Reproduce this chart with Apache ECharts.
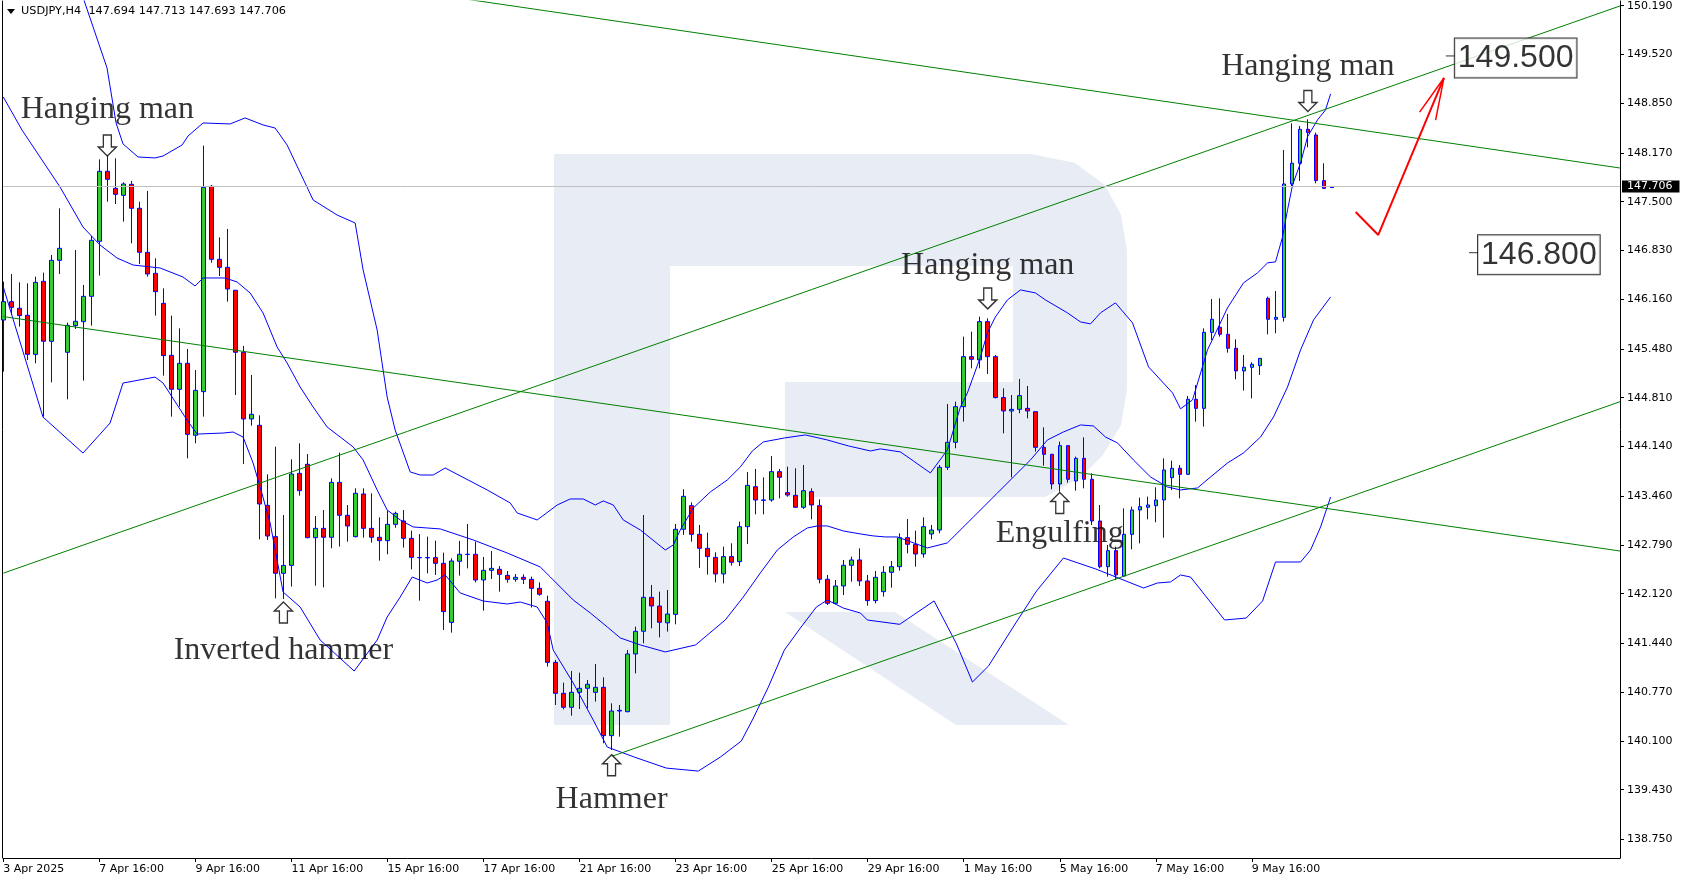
<!DOCTYPE html>
<html><head><meta charset="utf-8">
<script src="https://cdn.jsdelivr.net/npm/echarts@6/dist/echarts.min.js"></script>
<style>html,body{margin:0;padding:0;background:#fff}#c{width:1684px;height:882px}</style>
</head><body><div id="c"></div>
<script>
// ---------- DATA ----------
const symbolName = 'USDJPY,H4';
const headerQuote = ['147.694', '147.713', '147.693', '147.706'];
const lastPrice = 147.706;
const slotCount = 203; // bar slots on the time axis (incl. empty space on the right)

const xTickLabels = ['3 Apr 2025','7 Apr 16:00','9 Apr 16:00','11 Apr 16:00','15 Apr 16:00','17 Apr 16:00','21 Apr 16:00','23 Apr 16:00','25 Apr 16:00','29 Apr 16:00','1 May 16:00','5 May 16:00','7 May 16:00','9 May 16:00'];
const yTickValues = [150.190,149.520,148.850,148.170,147.500,146.830,146.160,145.480,144.810,144.140,143.460,142.790,142.120,141.440,140.770,140.100,139.430,138.750];
const yMin = 138.493, yMax = 150.254;

const open = [145.876,146.128,146.037,145.941,145.405,146.407,145.584,146.695,145.433,145.799,145.854,146.201,146.956,147.917,147.683,147.587,147.738,147.409,146.805,146.517,146.105,145.391,144.925,145.282,144.294,144.893,147.711,146.709,146.599,146.284,145.433,144.518,144.431,143.333,142.903,142.400,142.509,143.772,143.896,142.889,143.017,142.894,143.648,143.196,142.903,143.489,143.017,142.894,142.848,143.072,143.118,142.880,142.617,142.616,142.615,142.537,141.727,142.565,142.661,142.661,142.308,142.441,142.455,142.372,142.317,142.345,142.317,142.194,142.016,141.178,140.753,140.561,140.767,140.822,140.767,140.835,140.172,140.510,140.501,141.293,141.604,142.070,141.951,141.720,141.837,143.004,143.328,142.935,142.743,142.619,142.391,142.629,142.560,143.040,143.589,143.406,143.406,143.795,143.507,143.470,143.306,143.521,143.328,142.318,141.988,142.226,142.510,142.583,142.295,142.025,142.148,142.413,142.491,142.889,142.798,142.665,142.940,142.994,143.855,144.198,144.687,145.373,145.328,145.854,145.373,144.811,144.628,144.650,144.664,144.618,144.129,144.033,143.626,144.152,143.667,143.978,143.690,143.118,142.491,142.711,142.363,142.935,143.269,143.306,143.328,143.406,143.713,143.841,143.758,144.788,144.664,145.707,145.776,145.680,145.488,145.177,145.227,145.250,146.174,145.886,145.913,147.743,148.027,148.493,148.415,147.789,147.694];
const close = [146.128,146.050,145.936,145.405,146.393,145.584,146.695,146.860,145.803,145.858,146.201,146.970,147.917,147.807,147.601,147.743,147.409,146.805,146.508,146.265,145.387,144.925,145.282,144.307,144.911,147.697,146.709,146.599,146.302,145.433,144.518,144.582,143.351,142.912,142.400,142.509,143.763,143.534,142.889,143.017,142.894,143.648,143.196,143.049,143.498,143.017,142.894,142.848,143.072,143.223,142.880,142.619,142.613,142.612,142.537,141.874,142.569,142.661,142.659,142.308,142.441,142.468,142.386,142.317,142.345,142.317,142.194,142.112,141.178,140.753,140.561,140.767,140.822,140.877,140.835,140.172,140.510,140.520,141.293,141.604,142.070,141.951,141.727,141.842,143.004,143.456,142.935,142.743,142.629,142.391,142.629,142.551,143.040,143.607,143.406,143.402,143.795,143.717,143.475,143.306,143.534,143.338,142.318,141.988,142.226,142.510,142.583,142.295,142.025,142.345,142.414,142.491,142.889,142.798,142.665,143.040,142.994,143.855,144.198,144.687,145.373,145.337,145.854,145.373,144.811,144.628,144.650,144.838,144.628,144.129,144.033,143.626,144.152,143.690,143.978,143.690,143.118,142.491,142.711,142.377,142.935,143.269,143.315,143.338,143.406,143.818,143.841,143.758,144.788,144.664,145.707,145.886,145.680,145.488,145.177,145.227,145.268,145.350,145.886,145.913,147.743,148.027,148.493,148.448,147.789,147.683,147.706];
const low = [145.167,145.945,145.785,145.327,145.282,144.550,145.021,146.508,144.788,145.753,145.044,145.799,146.485,147.500,147.468,147.226,146.929,146.645,146.471,145.936,145.112,144.550,144.687,143.978,144.184,144.550,146.663,146.480,146.128,144.847,143.901,144.426,142.866,142.857,142.057,142.047,142.217,143.466,142.880,142.230,142.207,142.743,142.766,142.834,142.894,142.889,142.820,142.574,142.661,143.026,142.752,142.455,142.025,142.400,142.377,141.622,141.586,142.368,142.468,142.276,141.887,142.322,142.148,142.272,142.285,142.253,141.930,142.093,141.119,140.593,140.533,140.446,140.538,140.547,140.639,140.067,139.975,140.158,140.492,141.027,141.439,141.645,141.521,141.600,141.700,142.926,142.834,142.474,142.382,142.276,142.262,142.505,142.500,142.802,143.209,143.209,143.383,143.429,143.452,143.296,143.283,143.141,142.262,141.965,141.979,142.102,142.285,142.226,141.956,141.988,142.080,142.203,142.436,142.674,142.491,142.615,142.866,142.949,143.818,144.115,144.481,145.213,145.213,145.135,144.801,144.321,143.717,144.596,144.527,144.070,143.877,143.553,143.521,143.644,143.534,143.566,143.063,142.468,142.354,142.308,142.354,142.729,142.811,143.141,143.100,142.889,143.543,143.429,143.750,144.481,144.413,145.602,145.648,145.428,145.062,144.907,144.801,145.122,145.680,145.694,145.854,147.707,147.784,148.246,147.752,147.674,147.693];
const high = [146.403,146.508,146.393,146.380,146.471,146.526,146.769,147.409,145.840,146.837,146.357,147.029,148.081,148.141,148.095,147.766,147.784,147.500,147.647,146.723,146.311,145.936,145.762,145.478,145.190,148.269,147.729,147.011,147.125,146.290,145.520,145.122,144.568,143.758,144.138,143.200,143.964,144.184,144.037,143.186,143.269,143.703,144.056,143.337,143.566,143.566,143.498,143.168,143.260,143.246,143.269,142.985,142.939,142.903,142.848,142.683,142.606,142.844,143.077,142.834,142.624,142.706,142.500,142.432,142.391,142.386,142.354,142.276,142.093,141.210,140.899,141.060,141.037,140.936,141.156,140.973,140.616,140.593,141.348,141.668,143.200,142.240,142.148,142.171,143.077,143.553,143.374,143.063,142.958,142.688,142.766,142.812,143.109,143.790,143.832,143.717,144.010,143.832,143.864,143.841,143.887,143.566,143.415,142.377,142.308,142.583,142.628,142.743,142.377,142.432,142.500,142.569,142.949,143.145,142.985,143.168,143.063,143.887,144.724,144.756,145.648,145.716,145.922,145.899,145.396,144.939,144.847,145.067,144.971,144.618,144.403,144.040,144.207,144.161,144.001,144.266,143.772,143.338,142.789,142.766,143.292,143.315,143.438,143.452,143.580,143.978,143.946,143.887,144.834,144.984,145.762,146.165,146.174,145.959,145.611,145.396,145.296,145.355,146.197,146.274,148.210,148.576,148.539,148.630,148.448,148.027,147.713];

// Bollinger bands: [bar position, price]
const bbUpper = [[8.5,150.80],[10.2,150.227],[12.96,149.335],[14.09,148.579],[14.96,148.292],[16.84,148.113],[18.96,148.100],[19.96,148.127],[22.34,148.278],[23.09,148.402],[24.96,148.580],[28.34,148.567],[30.21,148.649],[32.46,148.553],[33.96,148.511],[35.46,148.278],[38.71,147.523],[41.71,147.317],[43.96,147.208],[44.96,146.563],[46.71,145.739],[47.96,144.820],[48.96,144.367],[50.84,143.791],[52.09,143.749],[53.71,143.749],[55.21,143.845],[60.46,143.544],[63.34,143.365],[64.21,143.228],[66.71,143.132],[69.21,143.338],[70.84,143.420],[72.46,143.420],[73.96,143.338],[74.96,143.393],[76.21,143.338],[77.46,143.132],[79.59,142.995],[82.71,142.720],[83.71,142.789],[84.59,142.995],[86.21,143.296],[88.34,143.516],[90.46,143.681],[92.09,143.859],[93.59,144.079],[94.96,144.203],[97.59,144.257],[100.21,144.299],[102.96,144.230],[105.59,144.148],[108.34,144.079],[109.59,144.107],[112.09,144.066],[113.71,143.942],[115.84,143.777],[117.96,144.093],[119.59,144.683],[120.46,144.875],[122.09,145.369],[122.96,145.699],[123.96,145.918],[125.46,146.152],[127.09,146.289],[128.96,146.248],[130.21,146.152],[132.96,145.974],[134.59,145.850],[135.84,145.823],[137.09,145.974],[138.96,146.111],[141.09,145.837],[143.09,145.233],[146.09,144.876],[147.09,144.657],[148.59,144.780],[150.46,145.466],[152.96,146.043],[154.96,146.386],[156.71,146.523],[157.96,146.660],[158.96,146.674],[159.84,147.017],[160.46,147.388],[161.09,147.731],[162.09,148.033],[162.96,148.390],[164.21,148.623],[165.21,148.760],[165.84,148.980]];
const bbMiddle = [[0,148.937],[2.34,148.483],[7.09,147.701],[9.96,147.152],[12.09,146.905],[14.21,146.727],[16.21,146.631],[19.59,146.590],[22.46,146.466],[23.96,146.343],[24.96,146.453],[27.71,146.453],[29.21,146.398],[30.84,146.247],[32.46,145.972],[34.21,145.506],[35.46,145.286],[37.09,144.957],[38.71,144.682],[40.46,144.408],[42.09,144.271],[43.71,144.134],[44.96,143.955],[46.71,143.544],[47.96,143.269],[49.59,143.132],[51.21,143.036],[52.96,143.022],[54.59,143.009],[58.71,142.858],[62.96,142.679],[67.09,142.487],[68.34,142.350],[71.21,142.034],[73.34,141.856],[75.46,141.664],[77.09,141.513],[79.59,141.417],[82.71,141.321],[86.5,141.417],[90.21,141.760],[92.46,142.075],[94.59,142.405],[96.71,142.720],[98.71,142.899],[100.46,143.022],[101.71,143.050],[102.96,143.050],[104.96,142.981],[107.09,142.940],[108.71,142.913],[110.21,142.899],[111.71,142.899],[115.46,142.748],[117.96,142.817],[121.21,143.173],[124.21,143.502],[126.21,143.722],[128.34,143.955],[130.46,144.230],[132.46,144.340],[134.59,144.436],[136.21,144.422],[137.71,144.271],[139.21,144.189],[141.21,143.955],[143.34,143.722],[145.46,143.585],[147.09,143.544],[149.21,143.571],[150.84,143.722],[152.96,143.914],[154.96,144.052],[157.09,144.271],[158.71,144.546],[160.46,144.957],[162.09,145.466],[163.71,145.877],[165.84,146.193]];
const bbLower = [[0,146.328],[4.96,144.544],[9.96,144.050],[13.34,144.462],[14.96,145.011],[18.96,145.093],[19.96,145.011],[22.96,144.503],[24.21,144.311],[27.46,144.325],[28.71,144.339],[29.96,144.270],[31.21,143.914],[32.09,143.584],[33.34,143.090],[34.96,142.143],[37.09,141.937],[39.59,141.484],[43.84,141.059],[46.71,141.484],[47.96,141.800],[49.59,142.074],[51.09,142.349],[52.96,142.267],[54.21,142.308],[55.21,142.377],[57.09,142.130],[59.96,142.020],[62.96,141.979],[64.59,142.006],[66.71,141.937],[67.96,141.718],[68.71,141.347],[71.21,140.894],[73.71,140.386],[75.46,140.016],[78.84,139.878],[82.84,139.727],[86.84,139.686],[89.59,139.878],[92.21,140.098],[93.59,140.386],[95.59,140.839],[97.59,141.347],[99.59,141.649],[101.59,141.937],[102.96,142.033],[104.96,141.923],[107.09,141.855],[107.96,141.759],[112.0,141.70],[116.3,142.021],[119.1,141.431],[121.09,140.908],[123.1,141.128],[126.5,141.718],[129.1,142.157],[132.46,142.610],[136.5,142.459],[142.47,142.198],[144.2,142.267],[145.84,142.281],[147.09,142.377],[148.34,142.349],[149.33,142.212],[152.6,141.759],[155.3,141.786],[157.34,142.020],[158.96,142.555],[162.09,142.555],[163.34,142.720],[164.59,143.036],[165.84,143.447]];

// Trend lines: two anchor points each [bar position, price]
const trendUpperFalling = [[55, 150.325], [202, 147.962]];
const trendUpperRising  = [[0, 142.402], [202, 150.186]];
const trendLowerFalling = [[0, 145.923], [202, 142.706]];
const trendLowerRising  = [[75.8, 139.879], [202, 144.755]];

// Forecast arrow
const forecastPath = [[168.97, 147.359], [171.8, 147.043], [180.0, 149.198]];
const forecastHead = [[176.96, 148.729], [180.0, 149.198], [178.96, 148.620]];

// Target levels
const targetLevels = [149.500, 146.800];
const targetBars = [180.8, 183.7];

// Candlestick patterns
const patternNames = ['Hanging man', 'Inverted hammer', 'Hammer', 'Hanging man', 'Engulfing', 'Hanging man'];
const patternBars = [13, 35, 76, 123, 132, 163];
const patternDir = ['down', 'up', 'up', 'down', 'up', 'down'];
const patternArrowPrices = [148.271, 141.862, 139.767, 146.172, 143.365, 148.882];
const patternLabelPrices = [148.757, 141.340, 139.300, 146.620, 142.950, 149.350];

// ---------- CHART ----------
const chart = echarts.init(document.getElementById('c'), null, {renderer: 'canvas'});
const categories = Array.from({length: slotCount}, (_, i) => String(i));
const candleData = open.map((o, i) => [o, close[i], low[i], high[i]]);
const showTick = (i) => i % 12 === 0 && i / 12 < xTickLabels.length;
const axisFont = {fontFamily: 'DejaVu Sans', fontSize: 11, color: '#000'};
const BLUE = '#0000ff', GREEN = '#008000';

const arrowDown = 'path://M5,0 L13,0 L13,12 L18,12 L9,21 L0,12 L5,12 Z';
const arrowUp = 'path://M9,0 L18,9 L13,9 L13,21 L5,21 L5,9 L0,9 Z';

function overlayLine(data, color, width, z) {
  return {type: 'line', xAxisIndex: 1, yAxisIndex: 0, data, showSymbol: false, symbol: 'none',
    lineStyle: {color, width}, silent: true, z: z || 4, clip: true, animation: false};
}

const option = {
  animation: false,
  backgroundColor: '#fff',
  grid: [{left: 3.3, right: 64, top: 1, bottom: 24, containLabel: false}],
  xAxis: [
    {type: 'category', data: categories, boundaryGap: false, gridIndex: 0,
      axisLine: {show: true, lineStyle: {color: '#000', width: 1}},
      axisTick: {show: true, interval: (i) => showTick(i), length: 4, lineStyle: {color: '#000'}},
      axisLabel: Object.assign({show: true, interval: (i) => showTick(i), align: 'left', margin: 6,
        formatter: (v) => xTickLabels[Number(v) / 12] || ''}, axisFont),
      splitLine: {show: false}},
    {type: 'value', min: 0, max: slotCount - 1, gridIndex: 0, show: false}
  ],
  yAxis: [
    {type: 'value', position: 'right', min: yMin, max: yMax, gridIndex: 0, scale: true,
      axisLine: {show: true, onZero: false, lineStyle: {color: '#000', width: 1}},
      axisTick: {show: true, customValues: yTickValues, length: 4, lineStyle: {color: '#000'}},
      axisLabel: Object.assign({show: true, customValues: yTickValues, margin: 7,
        formatter: (v) => Number(v).toFixed(3)}, axisFont),
      splitLine: {show: false}},
    {type: 'value', position: 'left', offset: 1.3, min: yMin, max: yMax, gridIndex: 0,
      axisLine: {show: true, onZero: false, lineStyle: {color: '#000', width: 1}},
      axisTick: {show: false}, axisLabel: {show: false}, splitLine: {show: false}}
  ],
  graphic: [
    // watermark "R"
    {type: 'rect', z: -5, shape: {x: 554, y: 154, width: 116, height: 571}, style: {fill: '#e8ecf4'}, silent: true},
    {type: 'polygon', z: -5, shape: {points: [[670,154],[1031,154],[1075,163],[1105,185],[1121,215],[1127,250],[1127,390],[1121,425],[1103,455],[1080,478],[1045,497],[785,497],[785,382],[1013,382],[1013,266],[670,266]]}, style: {fill: '#e8ecf4'}, silent: true},
    {type: 'polygon', z: -5, shape: {points: [[785,612],[895,612],[1069,725],[956,725]]}, style: {fill: '#e8ecf4'}, silent: true},
    // header
    {type: 'polygon', z: 50, shape: {points: [[7,9],[15,9],[11,14]]}, style: {fill: '#000'}},
    {type: 'text', z: 50, left: 21, top: 6, style: {text: symbolName + '  ' + headerQuote.join(' '), fill: '#000', font: '11.3px "DejaVu Sans"'}}
  ],
  series: [
    {type: 'candlestick', name: 'USDJPY', xAxisIndex: 0, yAxisIndex: 0, data: candleData, barWidth: 4, z: 3,
      itemStyle: {color: '#32cd32', color0: '#ff0000', borderColor: BLUE, borderColor0: BLUE, borderWidth: 1},
      silent: true,
      markLine: {silent: true, symbol: ['none', 'none'], animation: false,
        lineStyle: {color: '#c0c0c0', type: 'solid', width: 1},
        label: {show: true, position: 'end', distance: 2, formatter: lastPrice.toFixed(3),
          backgroundColor: '#000', color: '#fff', padding: [1, 7, 0, 5], fontFamily: 'DejaVu Sans', fontSize: 11},
        data: [{yAxis: lastPrice}]}},
    overlayLine(bbUpper, BLUE, 1, 4),
    overlayLine(bbMiddle, BLUE, 1, 4),
    overlayLine(bbLower, BLUE, 1, 4),
    overlayLine(trendUpperFalling, GREEN, 1, 4),
    overlayLine(trendUpperRising, GREEN, 1, 4),
    overlayLine(trendLowerFalling, GREEN, 1, 4),
    overlayLine(trendLowerRising, GREEN, 1, 4),
    overlayLine(forecastPath, '#ff0000', 2, 6),
    overlayLine(forecastHead, '#ff0000', 1.5, 6),
    {type: 'scatter', xAxisIndex: 1, yAxisIndex: 0, silent: true, z: 8,
      data: targetLevels.map((p, i) => [targetBars[i], p]),
      symbol: 'rect', symbolSize: [9, 1], itemStyle: {color: '#000'},
      label: {show: true, position: 'right', distance: 0, offset: [0, 2], formatter: (d) => d.value[1].toFixed(3),
        fontFamily: 'Liberation Sans', fontSize: 32, color: '#000', backgroundColor: '#fff',
        borderColor: '#000', borderWidth: 1, padding: [3, 3, 2, 3], lineHeight: 34}},
    {type: 'scatter', xAxisIndex: 1, yAxisIndex: 0, silent: true, z: 8,
      data: patternBars.map((b, i) => ({value: [b, patternArrowPrices[i]], symbol: patternDir[i] === 'down' ? arrowDown : arrowUp})),
      symbolSize: [18, 21], itemStyle: {color: '#fff', borderColor: '#000', borderWidth: 1.4}},
    {type: 'scatter', xAxisIndex: 1, yAxisIndex: 0, silent: true, z: 9,
      data: patternBars.map((b, i) => ({value: [b, patternLabelPrices[i]], name: patternNames[i]})),
      symbolSize: 0,
      label: {show: true, position: 'inside', formatter: (d) => d.name,
        fontFamily: 'Liberation Serif', fontSize: 32, color: '#000'}}
  ]
};
chart.setOption(option);
</script>
</body></html>
